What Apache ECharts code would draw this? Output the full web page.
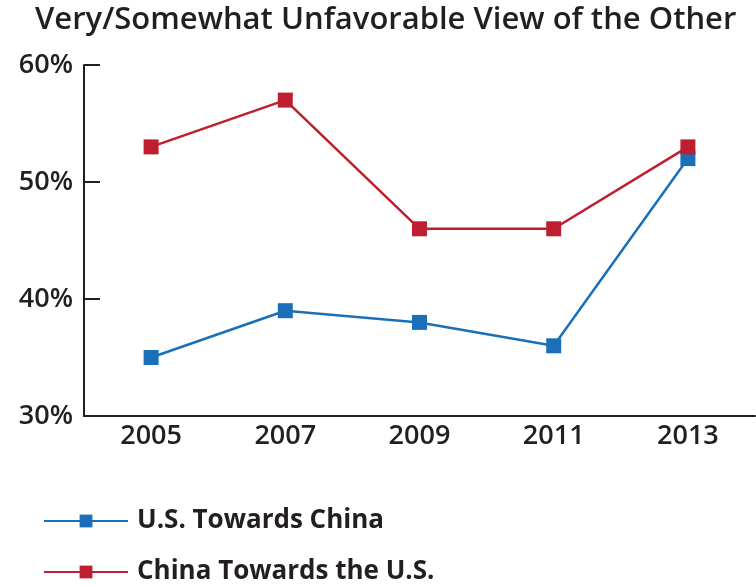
<!DOCTYPE html>
<html><head><meta charset="utf-8">
<script src="https://cdn.jsdelivr.net/npm/echarts@6/dist/echarts.min.js"></script>
<style>html,body{margin:0;padding:0;background:#fff}#c{width:756px;height:586px}</style>
</head><body><div id="c"></div>
<script>
const years = ['2005','2007','2009','2011','2013'];
const usTowardsChina = [35, 39, 38, 36, 52];
const chinaTowardsUS = [53, 57, 46, 46, 53];
const yTicks = [30, 40, 50, 60];
const seriesNames = ['U.S. Towards China', 'China Towards the U.S.'];
const dark = '#231f20';
const font = 'Open Sans';
const chart = echarts.init(document.getElementById('c'));
const legendBase = {
  orient: 'vertical', left: 38, itemWidth: 84, itemHeight: 16,
  textStyle: {fontFamily: font, fontSize: 26, fontWeight: 'bold', color: dark, padding: [0,0,0,4]}
};
chart.setOption({
  animation: false,
  title: {
    text: 'Very/Somewhat Unfavorable View of the Other',
    left: 30, top: 0,
    textStyle: {fontFamily: font, fontWeight: 600, fontSize: 31, color: dark}
  },
  grid: {left: 84, right: 1, top: 65, bottom: 170},
  legend: [
    Object.assign({}, legendBase, {top: 503, data: [seriesNames[0]]}),
    Object.assign({}, legendBase, {top: 554, data: [seriesNames[1]]})
  ],
  xAxis: {
    type: 'category', data: years, boundaryGap: true,
    axisLine: {lineStyle: {color: dark, width: 2}},
    axisTick: {inside: true, length: 9, lineStyle: {color: dark, width: 2}},
    axisLabel: {fontFamily: font, fontSize: 27, fontWeight: 600, color: dark, margin: 7}
  },
  yAxis: {
    type: 'value', min: yTicks[0], max: yTicks[yTicks.length-1], interval: 10,
    splitLine: {show: false},
    axisLine: {show: true, lineStyle: {color: dark, width: 2}},
    axisTick: {show: true, inside: true, length: 16, lineStyle: {color: dark, width: 2}},
    axisLabel: {fontFamily: font, fontSize: 27, fontWeight: 600, color: dark, margin: 11, formatter: '{value}%'}
  },
  series: [
    {name: seriesNames[0], type: 'line', data: usTowardsChina,
     symbol: 'rect', symbolSize: 15, lineStyle: {color: '#1a70b8', width: 2.5},
     itemStyle: {color: '#1a70b8'}},
    {name: seriesNames[1], type: 'line', data: chinaTowardsUS,
     symbol: 'rect', symbolSize: 15, lineStyle: {color: '#be1e2d', width: 2.5},
     itemStyle: {color: '#be1e2d'}}
  ]
});
</script></body></html>
